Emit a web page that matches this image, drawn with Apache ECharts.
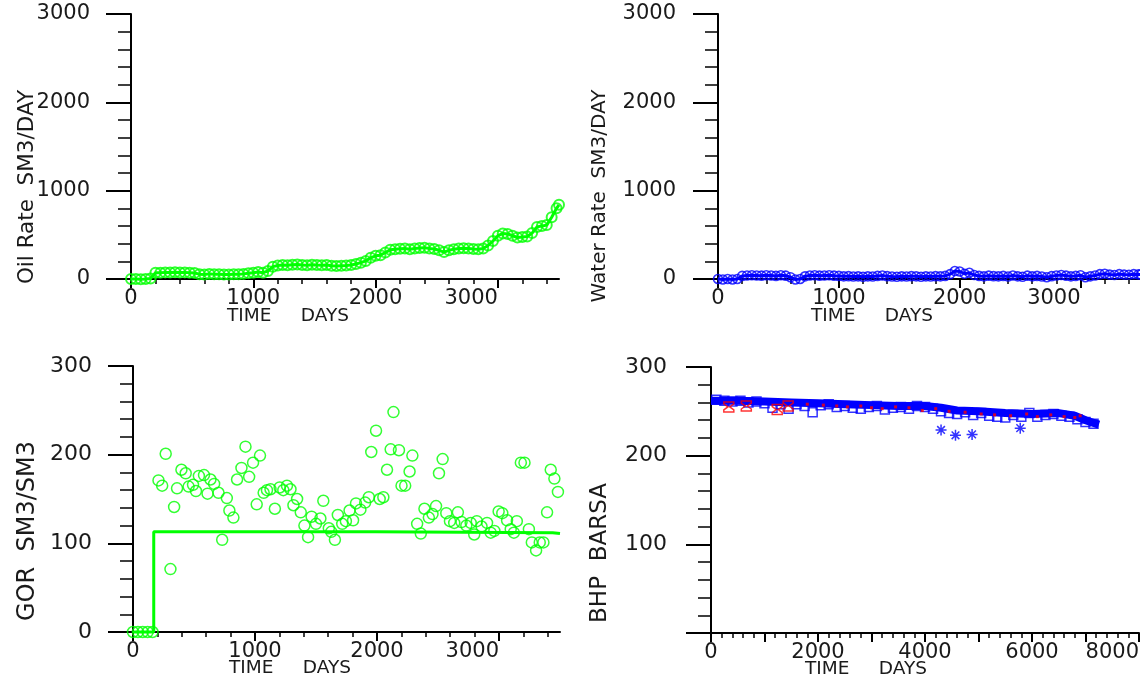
<!DOCTYPE html>
<html>
<head>
<meta charset="utf-8">
<script src="https://cdn.jsdelivr.net/npm/echarts@6/dist/echarts.min.js"></script>
<style>
  html, body { margin: 0; padding: 0; background: #ffffff; }
  #chart { width: 1140px; height: 683px; }
</style>
</head>
<body>
<div id="chart"></div>
<script>
// ---- Well history data (time in days) ----
const rateDays = [
  0, 40, 80, 120, 160, 200, 240, 280, 320, 360,
  400, 440, 480, 520, 560, 600, 640, 680, 720, 760,
  800, 840, 880, 920, 960, 1000, 1040, 1080, 1120, 1160,
  1200, 1240, 1280, 1320, 1360, 1400, 1440, 1480, 1520, 1560,
  1600, 1640, 1680, 1720, 1760, 1800, 1840, 1880, 1920, 1960,
  2000, 2040, 2080, 2120, 2160, 2200, 2240, 2280, 2320, 2360,
  2400, 2440, 2480, 2520, 2560, 2600, 2640, 2680, 2720, 2760,
  2800, 2840, 2880, 2920, 2960, 3000, 3040, 3080, 3120, 3160,
  3200, 3240, 3280, 3320, 3360, 3400, 3440, 3480, 3500
];
// Oil rate, SM3/DAY
const oilRate = [
  0, 0, -3, 0, 5, 70, 72, 75, 74, 76,
  73, 75, 72, 68, 55, 52, 58, 55, 53, 50,
  52, 55, 53, 58, 65, 72, 78, 72, 90, 140,
  152, 158, 155, 160, 165, 158, 155, 162, 158, 155,
  158, 150, 148, 150, 152, 158, 170, 185, 205, 240,
  262, 270, 300, 330, 338, 342, 345, 338, 345, 350,
  355, 345, 340, 325, 305, 325, 338, 345, 348, 345,
  340, 338, 345, 380, 430, 490, 515, 510, 490, 470,
  475, 480, 520, 590, 600, 610, 700, 800, 840
];
// Water rate, SM3/DAY
const waterRate = [
  0, -5, 0, -5, 0, 35, 40, 42, 40, 38,
  42, 40, 35, 42, 38, 20, -5, 0, 30, 40,
  42, 38, 40, 42, 38, 35, 30, 32, 28, 30,
  25, 30, 28, 35, 40, 32, 28, 25, 30, 28,
  32, 30, 25, 30, 28, 32, 30, 35, 55, 90,
  85, 60, 70, 45, 35, 30, 38, 32, 30, 35,
  28, 40, 30, 25, 38, 30, 35, 28, 20, 32,
  40, 45, 38, 30, 35, 42, 20, 30, 40, 55,
  60, 50, 45, 55, 50, 48, 55, 52, 50
];

// Gas-oil ratio, SM3/SM3: measured points
const gorDays = [
  0, 40, 80, 120, 160,
  209, 239, 268, 337, 307, 361, 397, 432, 456, 492,
  516, 540, 582, 611, 635, 665, 701, 731, 769, 790,
  823, 853, 889, 922, 952, 984, 1014, 1041, 1071, 1098,
  1127, 1163, 1202, 1232, 1262, 1291, 1315, 1345, 1375, 1405,
  1435, 1464, 1500, 1536, 1560, 1605, 1625, 1655, 1679, 1715,
  1745, 1775, 1804, 1828, 1864, 1903, 1933, 1953, 1992, 2022,
  2052, 2082, 2112, 2135, 2180, 2201, 2231, 2267, 2290, 2329,
  2359, 2389, 2425, 2455, 2484, 2508, 2538, 2568, 2598, 2633,
  2663, 2693, 2732, 2768, 2797, 2818, 2857, 2902, 2932, 2962,
  2997, 3027, 3066, 3096, 3122, 3146, 3179, 3209, 3245, 3269,
  3304, 3334, 3364, 3394, 3424, 3454, 3483
];
const gorValues = [
  0, 0, 0, 0, 0,
  171, 165, 201, 141, 71, 162, 183, 179, 164, 166,
  159, 176, 177, 156, 172, 167, 157, 104, 151, 137,
  129, 172, 185, 209, 175, 191, 144, 199, 157, 160,
  161, 139, 163, 160, 165, 161, 143, 150, 135, 120,
  107, 130, 122, 128, 148, 117, 113, 104, 132, 122,
  125, 137, 126, 145, 138, 146, 152, 203, 227, 150,
  152, 183, 206, 248, 205, 165, 165, 181, 199, 122,
  111, 139, 129, 133, 142, 179, 195, 134, 125, 123,
  135, 124, 120, 123, 110, 125, 119, 123, 112, 114,
  136, 134, 126, 116, 112, 125, 191, 191, 116, 101,
  92, 101, 101, 135, 183, 173, 158
];
// Gas-oil ratio, simulated
const gorSimDays = [0, 170, 170, 1990, 2000, 3440, 3450, 3500];
const gorSimValues = [0, 0, 113, 113, 112, 112, 111, 111];

// Bottom-hole pressure, BARSA
const bhpSimDays = [0, 500, 1000, 1500, 2000, 2500, 3000, 3500, 4000, 4300, 4600, 5000, 5500, 6000, 6500, 6800, 7000, 7250];
const bhpSimValues = [262, 262, 261, 260, 259, 258, 257, 256, 256, 254, 251, 250, 248, 247, 248, 245, 240, 235];
const bhpObsDays = [
  100, 250, 400, 550, 700, 850, 1000, 1150, 1300, 1450,
  1600, 1750, 1900, 2050, 2200, 2350, 2500, 2650, 2800, 2950,
  3100, 3250, 3400, 3550, 3700, 3850, 4000, 4150, 4300, 4450,
  4600, 4750, 4900, 5050, 5200, 5350, 5500, 5650, 5800, 5950,
  6100, 6250, 6400, 6550, 6700, 6850, 7000, 7150
];
const bhpObsValues = [
  263, 262, 261, 262, 260, 261, 259, 254, 258, 253,
  258, 256, 249, 257, 258, 255, 256, 254, 253, 255,
  256, 252, 254, 255, 253, 256, 255, 253, 250, 248,
  247, 249, 246, 248, 245, 244, 243, 246, 244, 248,
  244, 246, 247, 245, 244, 241, 238, 236
];
const bhpRedDays = [333, 660, 1238, 1442];
const bhpRedValues = [255, 256, 252, 256];
const bhpRedDotDays = [1800, 2100, 2350, 2550, 2800, 3000, 3200, 3450, 3700, 3950, 4200, 4450, 4750, 5050, 5300, 5600, 5900, 6100, 6350, 6600, 6800, 6900];
const bhpRedDotValues = [258, 257, 256, 255, 256, 254, 253, 255, 254, 251, 253, 250, 249, 247, 246, 245, 247, 244, 246, 244, 243, 245];
const bhpStarDays = [4300, 4570, 4880, 5780];
const bhpStarValues = [229, 223, 224, 231];

// Tick labels
const timeTicks = [0, 1000, 2000, 3000];
const bhpTimeTicks = [0, 2000, 4000, 6000, 8000];
const rateTicks = [0, 1000, 2000, 3000];
const gorTicks = [0, 100, 200, 300];
const bhpTicks = [100, 200, 300];

// Axis titles
const timeTitle = 'TIME     DAYS';
const oilTitle = 'Oil Rate  SM3/DAY';
const waterTitle = 'Water Rate  SM3/DAY';
const gorTitle = 'GOR  SM3/SM3';
const bhpTitle = 'BHP  BARSA';

// ---- helpers ----
const zip = (xs, ys) => xs.map((x, i) => [x, ys[i]]);
const steps = (from, to, step) => { const out = []; for (let v = from; v <= to + 1e-9; v += step) out.push(v); return out; };
const plain = v => String(v);

const FONT = 'DejaVu Sans';
const GREEN = '#00ff00', BLUE = '#0000ff', RED = '#ff0000', INK = '#000000', TEXT = '#1a1a1a';

// main axis: line, minor-length ticks, labels; overlay axis: major-length ticks only
function xAxes(grid, max, minorStep, majorStep, labels) {
  const base = { type: 'value', gridIndex: grid, min: 0, max: max, position: 'bottom', splitLine: { show: false } };
  return [
    Object.assign({}, base, {
      axisLine: { show: true, onZero: false, lineStyle: { color: INK, width: 2 } },
      axisTick: { show: true, length: 5, customValues: steps(0, max, minorStep), lineStyle: { color: INK, width: 1.5 } },
      axisLabel: { show: true, customValues: labels, formatter: plain, margin: 9, fontFamily: FONT, fontSize: 21, color: TEXT, alignMaxLabel: 'right' }
    }),
    Object.assign({}, base, {
      axisLine: { show: false, onZero: false },
      axisTick: { show: true, length: 9, customValues: steps(0, max, majorStep), lineStyle: { color: INK, width: 2 } },
      axisLabel: { show: false }
    })
  ];
}
function yAxes(grid, max, minorStep, majorStep, labels, margin, fontSize) {
  const base = { type: 'value', gridIndex: grid, min: 0, max: max, position: 'left', splitLine: { show: false } };
  return [
    Object.assign({}, base, {
      axisLine: { show: true, onZero: false, lineStyle: { color: INK, width: 2 } },
      axisTick: { show: true, length: 13, customValues: steps(0, max, minorStep), lineStyle: { color: INK, width: 1.5 } },
      axisLabel: { show: true, customValues: labels, formatter: plain, margin: margin, fontFamily: FONT, fontSize: fontSize, color: TEXT }
    }),
    Object.assign({}, base, {
      axisLine: { show: false, onZero: false },
      axisTick: { show: true, length: 25, customValues: steps(0, max, majorStep), lineStyle: { color: INK, width: 2 } },
      axisLabel: { show: false }
    })
  ];
}

const xMain = [], xOver = [], yMain = [], yOver = [];
[
  xAxes(0, 3500, 200, 1000, timeTicks),
  xAxes(1, 3500, 200, 1000, timeTicks),
  xAxes(2, 3500, 200, 1000, timeTicks),
  xAxes(3, 8000, 200, 1000, bhpTimeTicks)
].forEach(p => { xMain.push(p[0]); xOver.push(p[1]); });
[
  yAxes(0, 3000, 200, 1000, rateTicks, 41, 21),
  yAxes(1, 3000, 200, 1000, rateTicks, 42, 21),
  yAxes(2, 300, 20, 100, gorTicks, 41, 22),
  yAxes(3, 300, 20, 100, bhpTicks, 44, 22)
].forEach(p => { yMain.push(p[0]); yOver.push(p[1]); });

function hollow(color, size, width, symbol) {
  return {
    symbol: symbol || 'circle', symbolSize: size,
    itemStyle: { color: 'rgba(0,0,0,0)', borderColor: color, borderWidth: width }
  };
}
function simLine(idx, data, color, width) {
  return { type: 'line', xAxisIndex: idx, yAxisIndex: idx, data: data, showSymbol: false, clip: false,
           lineStyle: { color: color, width: width }, silent: true, z: 2 };
}
function scatter(idx, data, style, z) {
  return Object.assign({ type: 'scatter', xAxisIndex: idx, yAxisIndex: idx, data: data, clip: false, silent: true, z: z || 3 }, style);
}

const hourglass = 'path://M0,0 L10,0 L10,2 L6,5 L10,8 L10,10 L0,10 L0,8 L4,5 L0,2 Z';
const asterisk = 'path://M5,0 L5,10 M0,5 L10,5 M1.5,1.5 L8.5,8.5 M8.5,1.5 L1.5,8.5';

const series = [
  simLine(0, zip(rateDays, oilRate), GREEN, 3),
  scatter(0, zip(rateDays, oilRate), hollow(GREEN, 10, 2)),
  simLine(1, zip(rateDays, waterRate), BLUE, 3),
  scatter(1, zip(rateDays, waterRate), hollow(BLUE, 9, 1.6)),
  simLine(2, zip(gorSimDays, gorSimValues), GREEN, 3),
  scatter(2, zip(gorDays, gorValues), hollow(GREEN, 11, 1.5)),
  simLine(3, zip(bhpSimDays, bhpSimValues), BLUE, 8),
  scatter(3, zip(bhpObsDays, bhpObsValues), hollow(BLUE, 9, 1.5, 'rect')),
  scatter(3, zip(bhpRedDays, bhpRedValues), hollow(RED, 10, 1.5, hourglass), 4),
  scatter(3, zip(bhpRedDotDays, bhpRedDotValues), { symbol: 'rect', symbolSize: 3, itemStyle: { color: RED } }, 4),
  scatter(3, zip(bhpStarDays, bhpStarValues), hollow(BLUE, 11, 1.5, asterisk), 4)
];

function vTitle(text, x, y, size) {
  return { type: 'text', x: x, y: y, rotation: Math.PI / 2, silent: true,
           style: { text: text, fontFamily: FONT, fontSize: size, fill: TEXT, align: 'center', verticalAlign: 'middle' } };
}
function hTitle(text, x, y, size) {
  return { type: 'text', x: x, y: y, silent: true,
           style: { text: text, fontFamily: FONT, fontSize: size, fill: TEXT, align: 'center', verticalAlign: 'middle' } };
}

const chart = echarts.init(document.getElementById('chart'), null, { renderer: 'canvas' });
chart.setOption({
  animation: false,
  backgroundColor: '#ffffff',
  grid: [
    { left: 131, top: 14, width: 428, height: 265, outerBoundsMode: 'none' },
    { left: 718, top: 14, width: 423, height: 265, outerBoundsMode: 'none' },
    { left: 133, top: 366, width: 427, height: 266, outerBoundsMode: 'none' },
    { left: 711, top: 367, width: 428, height: 266, outerBoundsMode: 'none' }
  ],
  xAxis: xMain.concat(xOver),
  yAxis: yMain.concat(yOver),
  series: series,
  graphic: [
    vTitle(oilTitle, 27, 187, 21.5),
    vTitle(waterTitle, 600, 196, 20),
    vTitle(gorTitle, 28, 531, 24),
    vTitle(bhpTitle, 600, 553, 23),
    hTitle(timeTitle, 288, 316, 18.5),
    hTitle(timeTitle, 872, 316, 18.5),
    hTitle(timeTitle, 290, 668, 18.5),
    hTitle(timeTitle, 866, 669, 18.5)
  ]
});
</script>
</body>
</html>
